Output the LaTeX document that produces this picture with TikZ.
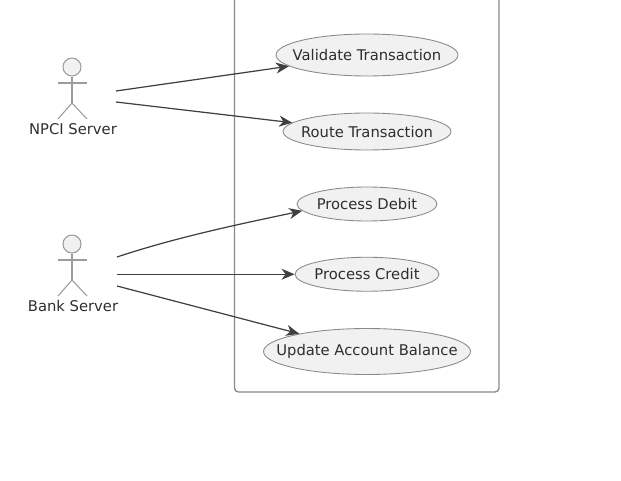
\documentclass[tikz,border=0pt]{standalone}
\usepackage{fontspec}
\setmainfont{DejaVu Sans}
\usepackage{tikz}
\usetikzlibrary{shapes.geometric, arrows.meta, calc}
\definecolor{casefill}{HTML}{F1F1F1}
\definecolor{lineagray}{HTML}{8A8A8A}
\definecolor{actorgray}{HTML}{9C9C9C}
\definecolor{textgray}{HTML}{2E2E2E}
\begin{document}
\begin{tikzpicture}[
            usecase/.style={ellipse, draw=lineagray, line width=0.5pt, fill=casefill, inner xsep=-0.7cm, inner ysep=0pt, text=textgray, font=\fontsize{8.4}{10}\selectfont},
            actorhead/.style={circle, draw=actorgray, line width=0.6pt, fill=casefill, minimum size=0.36cm, inner sep=0pt},
            actorline/.style={draw=actorgray, line width=0.6pt},
            actorname/.style={inner sep=0pt, text=textgray, font=\fontsize{8.4}{10}\selectfont},
            flecha/.style={-{Stealth[length=0.26cm, width=0.22cm, inset=0.08cm]}, line width=0.7pt, draw=black!75}
        ]
            \useasboundingbox (0, 0) rectangle (12.42, -9.62);

            % Sistema
            \coordinate (sys_tl) at (4.69, 0.1);
            \coordinate (sys_bl) at (4.69, -7.84);
            \coordinate (sys_br) at (9.98, -7.84);
            \coordinate (sys_tr) at (9.98, 0.1);
            \begin{scope}
                \clip (0, 0) rectangle (12.42, -9.62);
                \draw[draw=lineagray, line width=0.8pt, rounded corners=0.08cm] (sys_tl) -- (sys_bl) -- (sys_br) -- (sys_tr);
            \end{scope}

            % Casos de uso
            \node[usecase, minimum width=3.64cm, minimum height=0.84cm] (validate) at (7.34, -1.10) {Validate Transaction};
            \node[usecase, minimum width=3.36cm, minimum height=0.74cm] (route) at (7.34, -2.63) {Route Transaction};
            \node[usecase, minimum width=2.80cm, minimum height=0.68cm] (debit) at (7.34, -4.08) {Process Debit};
            \node[usecase, minimum width=2.88cm, minimum height=0.68cm] (credit) at (7.34, -5.485) {Process Credit};
            \node[usecase, minimum width=4.14cm, minimum height=0.92cm] (update) at (7.34, -7.03) {Update Account Balance};

            % NPCI Server
            \node[actorhead] (npci_head) at (1.44, -1.34) {};
            \coordinate (npci_hip) at (1.44, -2.06);
            \draw[actorline] (npci_head) -- (npci_hip);
            \draw[actorline] (1.16, -1.66) -- (1.74, -1.66);
            \draw[actorline] (1.16, -2.38) -- (npci_hip) -- (1.74, -2.38);
            \node[actorname] (npci) at (1.46, -2.58) {NPCI Server};
            \coordinate (npci_a) at (2.32, -1.82);
            \coordinate (npci_b) at (2.32, -2.04);

            % Bank Server
            \node[actorhead] (bank_head) at (1.44, -4.88) {};
            \coordinate (bank_hip) at (1.44, -5.60);
            \draw[actorline] (bank_head) -- (bank_hip);
            \draw[actorline] (1.16, -5.20) -- (1.74, -5.20);
            \draw[actorline] (1.16, -5.92) -- (bank_hip) -- (1.74, -5.92);
            \node[actorname] (bank) at (1.46, -6.12) {Bank Server};
            \coordinate (bank_a) at (2.34, -5.14);
            \coordinate (bank_b) at (2.34, -5.485);
            \coordinate (bank_c) at (2.34, -5.72);

            % Flechas NPCI
            \draw[flecha] (npci_a) -- (validate);
            \draw[flecha] (npci_b) -- (route);

            % Flechas Bank
            \draw[flecha] (bank_a) .. controls (3.6, -4.72) and (5.0, -4.44) .. (debit.186);
            \draw[flecha] (bank_b) -- (credit);
            \draw[flecha] (bank_c) -- (update);
        \end{tikzpicture}
\end{document}
